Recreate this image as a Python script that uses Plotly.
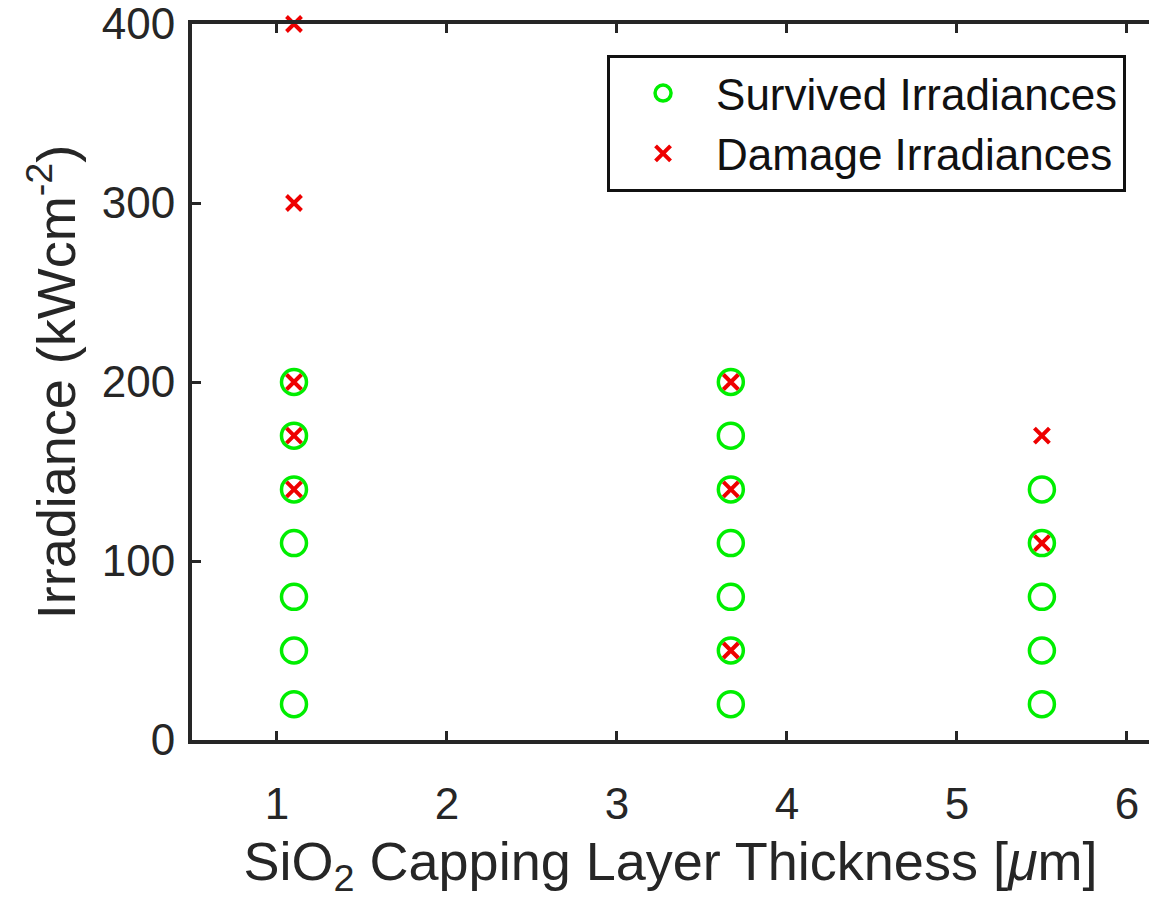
import plotly.graph_objects as go

# Data
surv_x = [1.1]*7 + [3.67]*7 + [5.5]*5
surv_y = [20, 50, 80, 110, 140, 170, 200,
          20, 50, 80, 110, 140, 170, 200,
          20, 50, 80, 110, 140]
dmg_x = [1.1]*5 + [3.67]*3 + [5.5]*2
dmg_y = [140, 170, 200, 300, 400,
         50, 140, 200,
         110, 170]
x_ticks = [1, 2, 3, 4, 5, 6]
y_ticks = [0, 100, 200, 300, 400]

AX = "#262626"
FONT = "Liberation Sans, Arial, sans-serif"

fig = go.Figure()
fig.add_trace(go.Scatter(
    x=surv_x, y=surv_y, mode="markers", name="Survived Irradiances",
    marker=dict(symbol="circle-open", size=25, color="#00ee00",
                line=dict(width=3.5, color="#00ee00")),
    cliponaxis=False))
fig.add_trace(go.Scatter(
    x=dmg_x, y=dmg_y, mode="markers", name="Damage Irradiances",
    marker=dict(symbol="x-thin", size=15, color="#ee0000",
                line=dict(width=4, color="#ee0000")),
    cliponaxis=False))

fig.update_layout(
    width=1149, height=902,
    margin=dict(l=192, r=0, t=24, b=162),
    paper_bgcolor="white", plot_bgcolor="white",
    font=dict(family=FONT, size=44, color=AX),
    showlegend=True,
    legend=dict(x=0.4337, y=0.9567, xanchor="left", yanchor="top",
                bgcolor="white", bordercolor="#111111", borderwidth=3,
                font=dict(size=44, color="#111111"),
                itemsizing="trace", itemwidth=96),
    xaxis=dict(range=[0.5, 6.13], tickvals=x_ticks, ticks="inside",
               ticklen=9, tickwidth=3, tickcolor=AX, showline=True,
               linewidth=4, linecolor=AX, mirror="ticks", showgrid=False,
               zeroline=False, tickfont=dict(size=44, color=AX),
               ticklabelstandoff=22, ticklabeloverflow="allow",
               title=dict(text="SiO<sub>2</sub> Capping Layer Thickness [<i>μ</i>m]",
                          font=dict(size=54, color=AX), standoff=16)),
    yaxis=dict(range=[0, 400], tickvals=y_ticks, ticks="inside",
               ticklen=9, tickwidth=3, tickcolor=AX, showline=True,
               linewidth=4, linecolor=AX, mirror=False, showgrid=False,
               zeroline=False, tickfont=dict(size=44, color=AX),
               ticklabelstandoff=4, ticklabeloverflow="allow",
               title=dict(text="Irradiance (kWcm<sup>-2</sup>)",
                          font=dict(size=54, color=AX), standoff=10)),
)

fig.write_html("out.html", config={"displayModeBar": False},
               post_script="document.body.style.margin='0px';")
